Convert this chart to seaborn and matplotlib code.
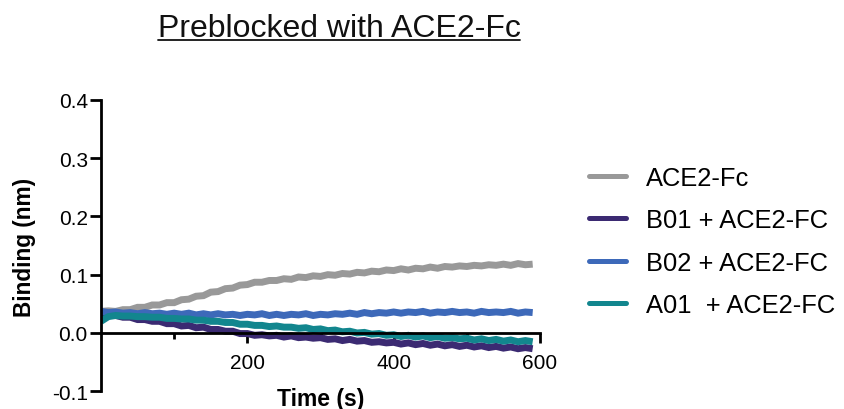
import matplotlib
matplotlib.use("Agg")
import matplotlib.pyplot as plt
from matplotlib.lines import Line2D
from matplotlib.ticker import FixedLocator
import seaborn as sns
import pandas as pd

# ---------------- data ----------------
time_s = list(range(0, 600, 10))

ace2_fc = [0.037, 0.038, 0.037, 0.040, 0.040, 0.044, 0.044, 0.048, 0.048, 0.052,
           0.052, 0.057, 0.058, 0.063, 0.064, 0.070, 0.071, 0.076, 0.077, 0.082,
           0.083, 0.087, 0.087, 0.090, 0.090, 0.093, 0.092, 0.096, 0.095, 0.098,
           0.097, 0.100, 0.099, 0.102, 0.101, 0.104, 0.103, 0.106, 0.105, 0.108,
           0.107, 0.110, 0.108, 0.111, 0.110, 0.113, 0.111, 0.114, 0.113, 0.115,
           0.114, 0.116, 0.115, 0.117, 0.116, 0.118, 0.116, 0.119, 0.117, 0.118]

b01 = [0.032, 0.030, 0.030, 0.027, 0.027, 0.023, 0.023, 0.020, 0.020, 0.016,
       0.016, 0.012, 0.013, 0.009, 0.010, 0.006, 0.006, 0.003, 0.003, -0.001,
       -0.001, -0.004, -0.003, -0.005, -0.004, -0.007, -0.005, -0.008, -0.007, -0.009,
       -0.008, -0.011, -0.010, -0.013, -0.011, -0.014, -0.013, -0.016, -0.015, -0.017,
       -0.016, -0.019, -0.017, -0.020, -0.018, -0.021, -0.019, -0.022, -0.020, -0.023,
       -0.021, -0.024, -0.022, -0.025, -0.023, -0.026, -0.024, -0.027, -0.025, -0.027]

b02 = [0.037, 0.035, 0.036, 0.034, 0.035, 0.033, 0.035, 0.033, 0.034, 0.032,
       0.034, 0.032, 0.034, 0.031, 0.033, 0.031, 0.033, 0.031, 0.032, 0.030,
       0.032, 0.031, 0.033, 0.030, 0.032, 0.030, 0.032, 0.031, 0.033, 0.030,
       0.032, 0.031, 0.033, 0.032, 0.034, 0.032, 0.035, 0.033, 0.035, 0.034,
       0.036, 0.034, 0.036, 0.035, 0.037, 0.034, 0.036, 0.035, 0.037, 0.035,
       0.036, 0.034, 0.037, 0.035, 0.036, 0.035, 0.037, 0.034, 0.036, 0.035]

a01 = [0.020, 0.028, 0.030, 0.029, 0.029, 0.028, 0.028, 0.027, 0.027, 0.025,
       0.025, 0.024, 0.024, 0.022, 0.022, 0.020, 0.020, 0.018, 0.018, 0.015,
       0.015, 0.013, 0.013, 0.011, 0.012, 0.010, 0.010, 0.008, 0.009, 0.006,
       0.007, 0.004, 0.005, 0.002, 0.003, 0.000, 0.001, -0.002, -0.001, -0.004,
       -0.003, -0.006, -0.004, -0.007, -0.005, -0.008, -0.006, -0.009, -0.008, -0.010,
       -0.009, -0.012, -0.010, -0.013, -0.011, -0.014, -0.012, -0.015, -0.013, -0.015]

series_names = ["ACE2-Fc", "B01 + ACE2-FC", "B02 + ACE2-FC", "A01  + ACE2-FC"]
series_values = [ace2_fc, b01, b02, a01]
series_colors = ["#999999", "#3b2a72", "#3d69b9", "#12868e"]

x_major_ticks = [200, 400, 600]
x_minor_ticks = [100, 300, 500]
y_ticks = [-0.1, 0.0, 0.1, 0.2, 0.3, 0.4]
y_tick_labels = ["-0.1", "0.0", "0.1", "0.2", "0.3", "0.4"]

title_text = "Preblocked with ACE2-Fc"
x_label = "Time (s)"
y_label = "Binding (nm)"

# ---------------- build long-form table ----------------
rows = []
for name, vals in zip(series_names, series_values):
    for t, v in zip(time_s, vals):
        rows.append({"Time": t, "Binding": v, "Sample": name})
df = pd.DataFrame(rows)

# ---------------- style ----------------
sns.set_style("ticks")
plt.rcParams["font.family"] = ["Liberation Sans", "DejaVu Sans"]
for k in ["text.color", "axes.labelcolor", "xtick.color", "ytick.color", "axes.edgecolor"]:
    plt.rcParams[k] = "black"

W, H = 844, 410
fig = plt.figure(figsize=(W / 100, H / 100), dpi=100)
ax = fig.add_axes([101 / W, (H - 392.3) / H, 439 / W, (392.3 - 100.7) / H])

palette = dict(zip(series_names, series_colors))
sns.lineplot(data=df, x="Time", y="Binding", hue="Sample", hue_order=series_names,
             palette=palette, linewidth=5.0, legend=False, ax=ax,
             solid_joinstyle="miter", solid_capstyle="butt")

ax.set_xlim(0, 600)
ax.set_ylim(-0.1, 0.4)
ax.set_xlabel("")
ax.set_ylabel("")

# spines
for s in ["top", "right"]:
    ax.spines[s].set_visible(False)
ax.spines["left"].set_linewidth(2.0)
ax.spines["bottom"].set_linewidth(2.0)
ax.spines["bottom"].set_position(("data", 0))
ax.spines["left"].set_color("black")
ax.spines["bottom"].set_color("black")

# ticks
ax.xaxis.set_major_locator(FixedLocator(x_major_ticks))
ax.xaxis.set_minor_locator(FixedLocator(x_minor_ticks))
ax.set_xticklabels([str(v) for v in x_major_ticks])
ax.set_yticks(y_ticks)
ax.set_yticklabels(y_tick_labels)
ax.tick_params(axis="x", which="major", length=7.5, width=2.0, pad=7, labelsize=15,
               color="black", labelcolor="black")
ax.tick_params(axis="x", which="minor", length=4, width=2.0, color="black")
ax.tick_params(axis="y", which="major", length=8, width=2.0, pad=1.5, labelsize=15,
               color="black", labelcolor="black")

# title with underline
title = fig.text(339 / W, 1 - 37 / H, title_text, ha="center", va="baseline",
                 fontsize=23, color="#111111")
fig.canvas.draw()
bb = title.get_window_extent().transformed(fig.transFigure.inverted())
fig.add_artist(Line2D([bb.x0, bb.x1], [1 - 41 / H, 1 - 41 / H],
                      transform=fig.transFigure, color="#111111", linewidth=1.3))

# axis labels
fig.text(24 / W, 1 - 247 / H, y_label, rotation=90, ha="center", va="center",
         fontsize=16.3, fontweight="bold", color="black")
fig.text(321 / W, 1 - 406 / H, x_label, ha="center", va="baseline",
         fontsize=16.5, fontweight="bold", color="black")

# legend
handles = [Line2D([0], [0], color=c, linewidth=3.6, solid_capstyle="round")
           for c in series_colors]
fig.legend(handles, series_names, loc="upper left",
           bbox_to_anchor=(589 / W, 1 - 167 / H), frameon=False,
           fontsize=18.4, handlelength=1.45, handletextpad=0.78,
           labelspacing=0.72, borderpad=0, borderaxespad=0, labelcolor="black")

fig.savefig("out.png", dpi=100)
